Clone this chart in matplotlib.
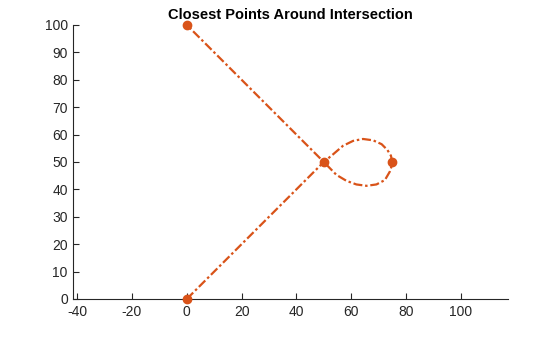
import matplotlib
matplotlib.use("Agg")
import matplotlib.pyplot as plt

# path: (0,0) -> (50,50) -> upper loop -> (75,50) -> lower loop -> (50,50) -> (0,100)
path_x = [0, 50, 53.4, 57.0, 60.7, 64.3, 68.0, 71.1, 73.2, 74.5, 75,
          74.6, 74.1, 72.3, 69.2, 65.6, 61.9, 58.3, 54.6, 50, 0]
path_y = [0, 50, 52.8, 55.9, 57.7, 58.4, 57.9, 56.5, 54.4, 52.3, 50,
          48.0, 46.5, 43.4, 41.8, 41.3, 41.8, 43.1, 45.3, 50, 100]

# marked points
pts_x = [0, 50, 75, 0]
pts_y = [100, 50, 50, 0]

orange = "#D95319"
axcol = "#262626"

plt.rcParams['font.family'] = ['Liberation Sans', 'DejaVu Sans']
plt.rcParams['axes.unicode_minus'] = False
plt.rcParams['lines.scale_dashes'] = False

fig = plt.figure(figsize=(5.6, 3.37), dpi=100)
ax = fig.add_axes([0.131, 0.1128, 0.776, 0.8131])

ax.plot(path_x, path_y, color=orange, linewidth=1.6, clip_on=False,
        linestyle=(0, (6.5, 2.0, 1.8, 2.0)))
ax.plot(pts_x, pts_y, 'o', color=orange, markersize=6, clip_on=False, zorder=3)

ax.set_xlim(-41.4, 117.2)
ax.set_ylim(0, 100)
ax.set_xticks(range(-40, 101, 20))
ax.set_yticks(range(0, 101, 10))

for s in ['top', 'right']:
    ax.spines[s].set_visible(False)
for s in ['left', 'bottom']:
    ax.spines[s].set_color(axcol)
    ax.spines[s].set_linewidth(0.8)
ax.tick_params(direction='in', length=4, width=0.8, colors=axcol, labelsize=10, pad=4)

ax.set_title("Closest Points Around Intersection", fontsize=10.5, fontweight='bold',
             color='black', pad=4)

fig.savefig("out.png", dpi=100)
